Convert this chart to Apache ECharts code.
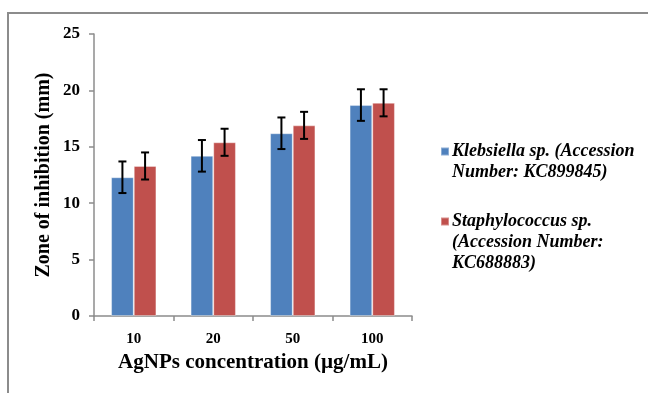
<!DOCTYPE html>
<html>
<head>
<meta charset="utf-8">
<script src="https://cdn.jsdelivr.net/npm/echarts@6/dist/echarts.min.js"></script>
<style>
  html, body { margin: 0; padding: 0; background: #fff; }
  .frame {
    position: absolute; left: 7px; top: 12px; width: 700px; height: 450px;
    border-top: 2px solid #8c8c8c; border-left: 2px solid #8c8c8c;
  }
  #chart { position: absolute; left: 0; top: 0; width: 648px; height: 393px; }
</style>
</head>
<body>
<div class="frame"></div>
<div id="chart"></div>
<script>
const categories = ['10', '20', '50', '100'];
const seriesNames = [
  'Klebsiella sp. (Accession Number: KC899845)',
  'Staphylococcus sp. (Accession Number: KC688883)'
];
// 범례 줄바꿈 (원본 그림과 동일)
const legendLines = [
  ['Klebsiella sp. (Accession', 'Number: KC899845)'],
  ['Staphylococcus sp.', '(Accession Number:', 'KC688883)']
];
const klebsiellaValues = [12.3, 14.2, 16.2, 18.7];
const klebsiellaErrors = [1.4, 1.4, 1.4, 1.4];
const staphValues = [13.3, 15.4, 16.9, 18.9];
const staphErrors = [1.2, 1.2, 1.2, 1.2];
const colors = ['#4F81BD', '#C0504D'];

const fontFamily = "'Liberation Serif', 'Times New Roman', serif";
const axisColor = '#8c8c8c';
const barCategoryGap = 0.43;

const chart = echarts.init(document.getElementById('chart'));

// 아이콘이 첫 줄에 오도록 앞에 빈 줄 추가
const legendText = (lines) => {
  const pad = new Array(lines.length - 1).fill('');
  return pad.concat(lines).join('\n');
};

const errorSeries = (values, errors, idx) => ({
  type: 'custom',
  name: seriesNames[idx] + ' err',
  data: values.map((v, i) => [i, v, errors[i]]),
  z: 10,
  silent: true,
  renderItem: (params, api) => {
    const i = api.value(0);
    const v = api.value(1);
    const e = api.value(2);
    const catW = api.size([1, 0])[0];
    const barW = catW * (1 - barCategoryGap) / 2;
    const center = api.coord([i, v]);
    const x = center[0] + (idx === 0 ? -barW / 2 : barW / 2);
    const top = api.coord([i, v + e])[1];
    const bot = api.coord([i, v - e])[1];
    const cap = 4;
    const style = { stroke: '#000', lineWidth: 2 };
    return {
      type: 'group',
      children: [
        { type: 'line', shape: { x1: x, y1: top, x2: x, y2: bot }, style },
        { type: 'line', shape: { x1: x - cap, y1: top, x2: x + cap, y2: top }, style },
        { type: 'line', shape: { x1: x - cap, y1: bot, x2: x + cap, y2: bot }, style }
      ]
    };
  }
});

const legendBase = {
  orient: 'vertical',
  padding: 0,
  icon: 'rect',
  itemWidth: 8,
  itemHeight: 8,
  itemGap: 0,
  selectedMode: false,
  textStyle: {
    fontFamily,
    fontSize: 18,
    fontWeight: 'bold',
    fontStyle: 'italic',
    color: '#000',
    lineHeight: 21,
    padding: [0, 0, 0, -2]
  }
};

const option = {
  animation: false,
  textStyle: { fontFamily },
  grid: { left: 94, right: 236, top: 34, bottom: 77, containLabel: false },
  legend: [
    Object.assign({}, legendBase, {
      left: 440, top: 120,
      data: [seriesNames[0]],
      formatter: () => legendText(legendLines[0])
    }),
    Object.assign({}, legendBase, {
      left: 440, top: 169,
      data: [seriesNames[1]],
      formatter: () => legendText(legendLines[1])
    })
  ],
  xAxis: {
    type: 'category',
    data: categories,
    name: 'AgNPs concentration (\u00b5g/mL)',
    nameLocation: 'middle',
    nameGap: 33,
    nameTextStyle: {
      fontFamily, fontSize: 21, fontWeight: 'bold', color: '#000'
    },
    axisLine: { lineStyle: { color: axisColor, width: 1.5 } },
    axisTick: { show: true, length: 5, lineStyle: { color: axisColor, width: 1.5 } },
    axisLabel: { color: '#000', fontSize: 15, fontWeight: 'bold', margin: 16 }
  },
  yAxis: {
    type: 'value',
    min: 0,
    max: 25,
    interval: 5,
    name: 'Zone of inhibition (mm)',
    nameLocation: 'middle',
    nameGap: 40,
    nameTextStyle: {
      fontFamily, fontSize: 20, fontWeight: 'bold', color: '#000'
    },
    axisLine: { show: true, lineStyle: { color: axisColor, width: 1.5 } },
    axisTick: { show: true, length: 5, lineStyle: { color: axisColor, width: 1.5 } },
    splitLine: { show: false },
    axisLabel: { color: '#000', fontSize: 17, fontWeight: 'bold', margin: 14 }
  },
  series: [
    {
      name: seriesNames[0],
      type: 'bar',
      data: klebsiellaValues,
      barGap: '0%',
      barCategoryGap: (barCategoryGap * 100) + '%',
      itemStyle: { color: colors[0], borderColor: 'rgba(255,255,255,0.35)', borderWidth: 1 },
      emphasis: { disabled: true }
    },
    {
      name: seriesNames[1],
      type: 'bar',
      data: staphValues,
      barGap: '0%',
      barCategoryGap: (barCategoryGap * 100) + '%',
      itemStyle: { color: colors[1], borderColor: 'rgba(255,255,255,0.35)', borderWidth: 1 },
      emphasis: { disabled: true }
    },
    errorSeries(klebsiellaValues, klebsiellaErrors, 0),
    errorSeries(staphValues, staphErrors, 1)
  ]
};

chart.setOption(option);
</script>
</body>
</html>
